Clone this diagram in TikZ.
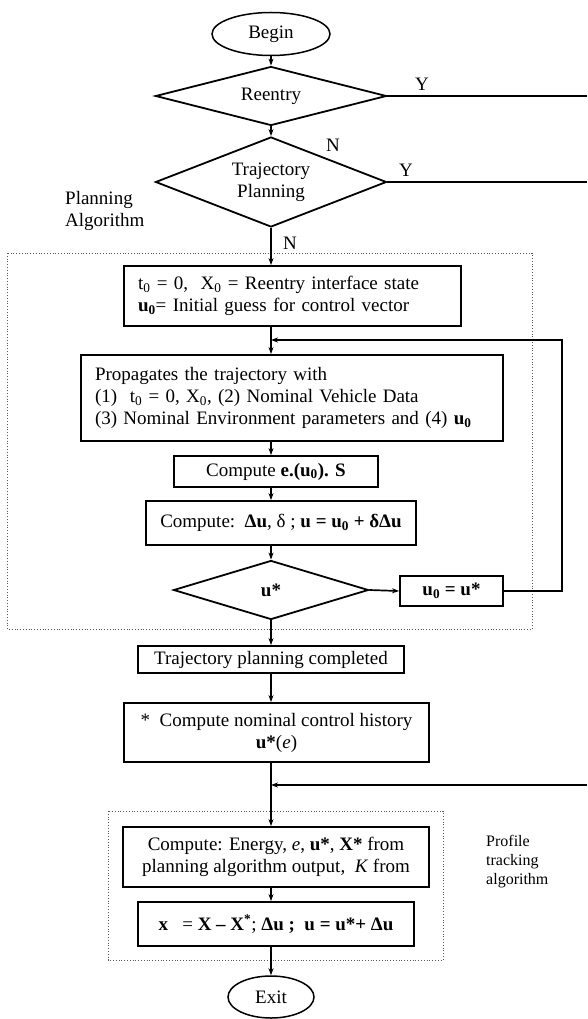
\documentclass[tikz,border=0pt]{standalone}
\usepackage{fontspec}
\setmainfont{Liberation Serif}
\usetikzlibrary{positioning, arrows.meta, shapes.geometric}

\begin{document}
\begin{tikzpicture}[>={Stealth[length=7pt, width=5pt]}, x=1pt, y=-1pt,
  font=\fontsize{19}{22}\selectfont,
  box/.style={draw, line width=1.8pt, rectangle, inner sep=0pt, align=center},
  cond/.style={draw, line width=1.8pt, diamond, inner sep=0pt, aspect=3, align=center},
  term/.style={draw, line width=1.5pt, ellipse, inner sep=0pt},
  grp/.style={draw=black!65, dotted, line width=0.8pt},
  lbl/.style={inner sep=0pt},
  flow/.style={line width=1.7pt}]

\useasboundingbox (0,0) rectangle (587,1019);

% --- Dotted frames of the two algorithms ---
\draw[grp] (7,253) rectangle (532,629);
\draw[grp] (108,811) rectangle (443,960);

% --- Begin and the two decisions ---
\node[term, minimum width=118pt, minimum height=43pt] (begin) at (271,34) {Begin};
\node[cond, minimum width=231pt, minimum height=59pt] (reentry) at (271,96) {Reentry};
\node[cond, minimum width=231pt, minimum height=90pt] (traj) at (271,182) {Trajectory\\Planning};

\coordinate (yout1) at (587,96);
\coordinate (yout2) at (587,182);

% --- Planning loop ---
\node[box, text width=309pt, inner xsep=14pt, minimum height=60pt, align=left] (init) at (292.5,296)
  {t\textsubscript{0} = 0,\ \ X\textsubscript{0} = Reentry interface state\\
   \textbf{u\textsubscript{0}}= Initial guess for control vector};
\coordinate (loopin) at (271,340);
\coordinate (loopc) at (562,340);
\node[box, text width=394pt, inner xsep=14pt, minimum height=86pt, align=left] (prop) at (292,398)
  {Propagates the trajectory with\\
   (1)\ \ t\textsubscript{0} = 0, X\textsubscript{0}, (2) Nominal Vehicle Data\\
   (3) Nominal Environment parameters and (4) \textbf{u\textsubscript{0}}};
\node[box, minimum width=204pt, minimum height=31pt] (compe) at (276,471.5)
  {Compute \textbf{e.(u\textsubscript{0}). S}};
\node[box, minimum width=270pt, minimum height=44pt] (compdu) at (281,523)
  {Compute:\ \ \textbf{Δu}, δ ; \textbf{u = u\textsubscript{0} + δΔu}};
\node[cond, minimum width=195pt, minimum height=59pt] (ustar) at (271,590) {\textbf{u*}};
\node[box, minimum width=103pt, minimum height=30pt] (u0box) at (451.5,591)
  {\textbf{u\textsubscript{0} = u*}};

% --- After planning ---
\node[box, minimum width=266pt, minimum height=27pt] (tpc) at (271,659.5)
  {Trajectory planning completed};
\node[box, minimum width=305pt, minimum height=59pt] (nominal) at (276.5,732.5)
  {*\ \ Compute nominal control history\\ \textbf{u*}(\textit{e})};

% --- Profile tracking ---
\coordinate (fbin) at (587,785);
\coordinate (fbjoin) at (271,785);
\node[box, minimum width=306pt, minimum height=60pt] (energy) at (276,857)
  {Compute: Energy, \textit{e}, \textbf{u*}, \textbf{X*} from\\
   planning algorithm output,\ \ \textit{K} from};
\node[box, minimum width=276pt, minimum height=44pt] (xbox) at (276,924)
  {\textbf{x}\ \ \ = \textbf{X – X\textsuperscript{*}}; \textbf{Δu ;}\ \ \textbf{u = u*+ Δu}};
\node[term, minimum width=86pt, minimum height=42pt] (exit) at (271,997) {Exit};

% --- Connectors ---
\draw[flow, ->] (begin.south) -- (reentry.north);
\draw[flow] (reentry.east) -- (yout1);
\draw[flow, ->] (reentry.south) -- (traj.north);
\draw[flow] (traj.east) -- (yout2);
\draw[flow, ->] (traj.south) -- (traj.south |- init.north);
\draw[flow] (traj.south |- init.south) -- (loopin);
\draw[flow, ->] (loopin) -- (loopin |- prop.north);
\draw[flow, ->] (loopin |- prop.south) -- (loopin |- compe.north);
\draw[flow, ->] (loopin |- compe.south) -- (loopin |- compdu.north);
\draw[flow, ->] (loopin |- compdu.south) -- (ustar.north);
\draw[flow, ->] (ustar.east) -- (u0box.west);
\draw[flow, ->] (u0box.east) -| (loopc) -- (loopin);
\draw[flow, ->] (ustar.south) -- (tpc.north);
\draw[flow, ->] (tpc.south) -- (tpc.south |- nominal.north);
\draw[flow] (tpc.south |- nominal.south) -- (fbjoin);
\draw[flow, ->] (fbin) -- (fbjoin);
\draw[flow, ->] (fbjoin) -- (fbjoin |- energy.north);
\draw[flow, ->] (fbjoin |- energy.south) -- (fbjoin |- xbox.north);
\draw[flow, ->] (fbjoin |- xbox.south) -- (exit.north);

% --- Labels ---
\node[lbl] (y1) at (422,84) {Y};
\node[lbl] (y2) at (406,170) {Y};
\node[lbl] (n1) at (333,145) {N};
\node[lbl] (n2) at (290,243) {N};
\node[lbl, align=left, anchor=west] (plan) at (65,211) {Planning\\Algorithm};
\node[lbl, align=left, anchor=west, font=\fontsize{16}{19}\selectfont] (prof) at (486,862)
  {Profile\\tracking\\algorithm};

\end{tikzpicture}
\end{document}
